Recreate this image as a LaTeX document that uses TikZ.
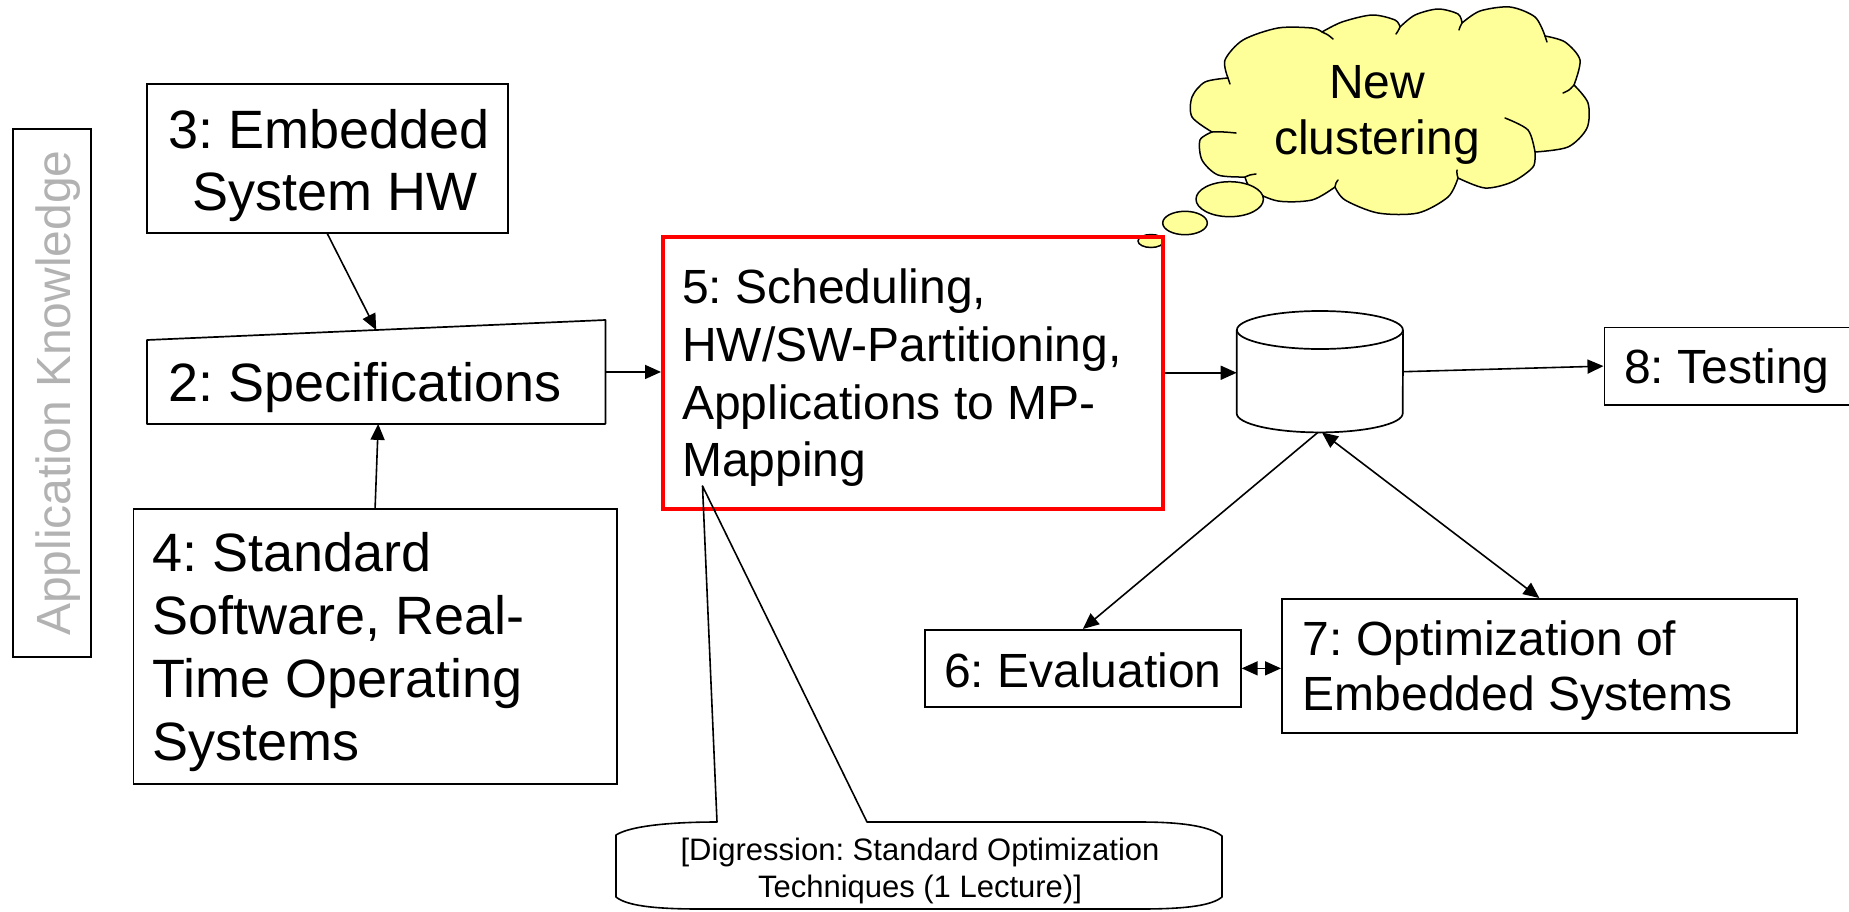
\documentclass[tikz,border=0pt]{standalone}
\usepackage{fontspec}
\setmainfont{Liberation Sans}
\frenchspacing
\usetikzlibrary{arrows.meta,calc}
\definecolor{cloudfill}{RGB}{255,255,153}
\definecolor{appgray}{RGB}{178,178,178}
\begin{document}
\begin{tikzpicture}[x=1pt,y=1pt,
  box/.style={draw=black,line width=1.7pt,inner sep=0pt,anchor=north west,rectangle},
  ghost/.style={inner sep=0pt,anchor=north west,rectangle},
  txt/.style={inner sep=0pt,align=left,anchor=north west},
  big/.style={font=\fontsize{54}{62}\selectfont},
  mid/.style={font=\fontsize{48}{57.8}\selectfont},
  conn/.style={line width=1.6pt,-{Triangle[length=16pt,width=14pt]}},
  dconn/.style={line width=1.6pt,{Triangle[length=16pt,width=14pt]}-{Triangle[length=16pt,width=14pt]}},
  outline/.style={line width=1.6pt,line join=round},
  puff/.style={line width=1.5pt,line cap=round}
]
\useasboundingbox (0,0) rectangle (1849,-911);
\clip (0,0) rectangle (1849,-911);

% Application Knowledge
\node[box, line width=1.5pt, minimum width=78pt, minimum height=528pt] (app) at (12,-128) {};
\node[rotate=90, inner sep=0pt, text=appgray, font=\fontsize{48}{58}\selectfont] (apptxt) at (58,-393) {Application Knowledge};

% Box 3
\node[box, minimum width=361pt, minimum height=149pt] (b3) at (146,-83) {};
\node[txt, big] (t3) at (168,-108) {\rule{0pt}{40pt}3: Embedded\\\hspace*{24pt}System HW};

% Box 2 (slanted top)
\node[ghost, minimum width=458pt, minimum height=103.5pt] (b2) at (147,-320) {};
\draw[outline, line width=1.7pt] (b2.south west) -- (b2.south east) -- (b2.north east) -- ([yshift=-20pt]b2.north west) -- cycle;
\node[inner sep=0pt, anchor=base west, big] (t2) at (168,-401.7) {2: Specifications};

% Box 4
\node[box, minimum width=483.5pt, minimum height=275pt] (b4) at (132.5,-508) {};
\node[txt, font=\fontsize{54}{63}\selectfont] (t4) at (152,-529) {\rule{0pt}{42pt}4: Standard\\Software, Real-\\Time Operating\\Systems};

% Cloud (thought bubble)
\node[ghost, minimum width=400pt, minimum height=210pt] (cloud) at (1190,-7) {};
\draw[puff, line join=round, fill=cloudfill]
  (1228,-78) -- plot[smooth] coordinates {(1228,-78) (1225,-60) (1243,-40) (1278,-28) (1312,-28) (1322,-32)}
  -- plot[smooth] coordinates {(1322,-32) (1342,-22) (1372,-15) (1395,-20) (1400,-27)}
  -- plot[smooth] coordinates {(1400,-27) (1415,-15) (1438,-9) (1458,-14) (1462,-23)}
  -- plot[smooth] coordinates {(1462,-23) (1480,-11) (1510,-7) (1535,-17) (1545,-36)}
  -- plot[smooth] coordinates {(1545,-36) (1565,-42) (1580,-60) (1574,-85)}
  -- plot[smooth] coordinates {(1574,-85) (1588,-103) (1587,-128) (1568,-147) (1535,-152)}
  -- plot[smooth] coordinates {(1535,-152) (1533,-167) (1512,-182) (1485,-188) (1458,-178)}
  -- plot[smooth] coordinates {(1458,-178) (1448,-197) (1418,-213) (1378,-213) (1345,-200) (1335,-187)}
  -- plot[smooth] coordinates {(1335,-187) (1312,-200) (1278,-201) (1252,-190) (1245,-177)}
  -- plot[smooth] coordinates {(1245,-177) (1218,-175) (1202,-160) (1200,-140) (1212,-132)}
  -- plot[smooth] coordinates {(1212,-132) (1192,-117) (1192,-97) (1205,-82) (1228,-78)}
  -- cycle;
% inner puff strokes
\draw[puff] plot[smooth] coordinates {(1322,-32) (1328,-35) (1333,-39)};
\draw[puff] plot[smooth] coordinates {(1400,-27) (1398,-31) (1396,-34)};
\draw[puff] plot[smooth] coordinates {(1462,-23) (1460,-27) (1459,-30)};
\draw[puff] plot[smooth] coordinates {(1545,-36) (1546,-39) (1547,-42)};
\draw[puff] plot[smooth] coordinates {(1574,-85) (1569,-90) (1563,-93)};
\draw[puff] plot[smooth] coordinates {(1505,-118) (1528,-130) (1535,-152)};
\draw[puff] plot[smooth] coordinates {(1458,-178) (1457,-174) (1457,-170)};
\draw[puff] plot[smooth] coordinates {(1335,-187) (1336,-183) (1338,-180)};
\draw[puff] plot[smooth] coordinates {(1245,-177) (1250,-175) (1256,-174)};
\draw[puff] plot[smooth] coordinates {(1212,-132) (1224,-132) (1236,-133)};
\draw[puff] plot[smooth] coordinates {(1228,-78) (1229,-81) (1230,-84)};
\node[inner sep=0pt, align=center, anchor=north, font=\fontsize{48}{56}\selectfont] (tc) at (1377,-58.3) {\rule{0pt}{40pt}New\\clustering};

% thought bubbles
\draw[puff, fill=cloudfill] (1229.7,-199.2) ellipse[x radius=33.7pt, y radius=17.5pt];
\draw[puff, fill=cloudfill] (1185,-223) ellipse[x radius=22.3pt, y radius=11.7pt];
\draw[puff, fill=cloudfill] (1151,-241) ellipse[x radius=13pt, y radius=6.5pt];

% Box 5
\node[box, draw=red, line width=3.5pt, minimum width=500pt, minimum height=272pt] (b5) at (661,-235) {};
\node[txt, mid] (t5) at (682,-263.3) {\rule{0pt}{40pt}5: Scheduling,\\HW/SW-Partitioning,\\Applications to MP-\\Mapping};

% Cylinder
\node[ghost, minimum width=166pt, minimum height=121pt] (cyl) at (1236.7,-311) {};
\draw[outline, line width=1.7pt] ([yshift=-19pt]cyl.north west) -- ([yshift=19pt]cyl.south west)
  arc[start angle=180, end angle=360, x radius=83pt, y radius=19pt] -- ([yshift=-19pt]cyl.north east);
\draw[line width=1.7pt] ([yshift=-19pt]cyl.north) ellipse[x radius=83pt, y radius=19pt];

% Testing
\node[box, minimum width=270pt, minimum height=77.5pt] (b8) at (1603.5,-326.5) {};
\node[inner sep=0pt, anchor=base west, mid] (t8) at (1624,-383.3) {8: Testing};

% Evaluation
\node[box, minimum width=316pt, minimum height=77pt] (b6) at (924,-629) {};
\node[inner sep=0pt, anchor=base west, mid] (t6) at (944,-687) {6: Evaluation};

% Optimization
\node[box, minimum width=515pt, minimum height=134pt] (b7) at (1281,-598) {};
\node[txt, font=\fontsize{48}{55}\selectfont] (t7) at (1302.6,-615) {\rule{0pt}{40pt}7: Optimization of\\Embedded Systems};

% Digression callout
\node[ghost, minimum width=606pt, minimum height=87pt] (dig) at (616,-822) {};
\coordinate (dtip) at (702.5,-486);
\draw[outline] (616,-835) .. controls (630,-826) and (670,-822) .. (717,-822) -- (dtip) -- (867,-822)
  -- (1140,-822) .. controls (1190,-822) and (1212,-828) .. (1222,-836)
  -- (1222,-897) .. controls (1212,-905) and (1190,-909) .. (1140,-909)
  -- (700,-909) .. controls (650,-909) and (626,-905) .. (616,-897) -- cycle;
\node[inner sep=0pt, align=center, anchor=north, font=\fontsize{31}{37}\selectfont] (td) at (920,-835) {\rule{0pt}{25pt}[Digression: Standard Optimization\\Techniques (1 Lecture)]};

% Connectors
\draw[conn] (b3.south) -- ([yshift=-10pt]b2.north);
\draw[conn] (b4.north) -- ([xshift=2pt]b2.south);
\draw[conn] (b2.east) -- (b2.east -| b5.west);
\draw[conn] (b5.east) -- (b5.east -| cyl.west);
\draw[conn] (cyl.east) -- (b8.west);
\draw[conn] ([xshift=-2pt]cyl.south) -- (b6.north);
\draw[dconn] ([xshift=2pt]cyl.south) -- (b7.north);
\draw[dconn] (b6.east) -- (b6.east -| b7.west);
\end{tikzpicture}
\end{document}
